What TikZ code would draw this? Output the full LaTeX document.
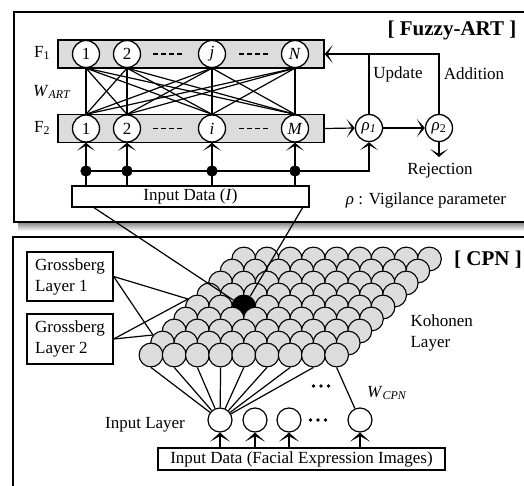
\documentclass[tikz,border=0pt]{standalone}
\usepackage{fontspec}
\setmainfont{Liberation Serif}
\usetikzlibrary{arrows.meta,calc}
\definecolor{kgray}{HTML}{DCDCDC}
\begin{document}
\begin{tikzpicture}[x=1pt,y=-1pt,
  font=\fontsize{17}{21}\selectfont,
  line width=1.2pt,
  frame/.style={draw, line width=1.4pt},
  barn/.style={draw, fill=kgray, line width=1.3pt, minimum width=266pt, minimum height=28pt, inner sep=0pt},
  ncirc/.style={circle, draw, fill=white, line width=1.3pt, minimum size=27pt, inner sep=0pt},
  kcirc/.style={circle, draw, line width=1.1pt, minimum size=23.8pt, inner sep=0pt},
  icirc/.style={circle, draw, fill=white, line width=1.2pt, minimum size=24pt, inner sep=0pt},
  dotn/.style={circle, fill=black, minimum size=11pt, inner sep=0pt},
  smalldot/.style={circle, fill=black, minimum size=3.6pt, inner sep=0pt},
  tip/.style={-{Stealth[length=8pt,width=18pt,inset=5pt]}},
  thicktip/.style={line width=2.8pt, -{Stealth[length=9pt,width=20pt,inset=5.5pt]}},
  boxn/.style={draw, line width=1.3pt, inner sep=0pt},
  lbl/.style={inner sep=0pt},
  headtext/.style={inner sep=0pt, font=\fontsize{21}{24}\selectfont\bfseries},
  dashrow/.style={line width=1.3pt, dash pattern=on 5pt off 3pt}
]
\useasboundingbox (0,0) rectangle (524,486);
\clip (0,0) rectangle (524,486);

% ---------- Fuzzy-ART frame ----------
\shade[top color=black!50, bottom color=white] (18,222) rectangle (535,231);
\draw[frame, fill=white] (14,12) rectangle (535,222);
\node[headtext] (hart) at (452,30) {[ Fuzzy-ART ]};

\node[barn] (F1bar) at (191,54) {};
\node[barn] (F2bar) at (191,128.5) {};

\node[lbl] (lF1) at (42,53) {F\textsubscript{1}};
\node[lbl] (lW) at (52,92) {\textit{W}\textsubscript{\textit{ART}}};
\node[lbl] (lF2) at (42,128) {F\textsubscript{2}};

\node[ncirc] (f1-1) at (86,54) {1};
\node[ncirc] (f1-2) at (127,54) {2};
\node[ncirc] (f1-3) at (212,54) {\textit{j}};
\node[ncirc] (f1-4) at (295,54) {\textit{N}};
\node[ncirc] (f2-1) at (86,128.5) {1};
\node[ncirc] (f2-2) at (127,128.5) {2};
\node[ncirc] (f2-3) at (212,128.5) {\textit{i}};
\node[ncirc] (f2-4) at (295,128.5) {\textit{M}};

\coordinate (da1) at (153,54);  \coordinate (db1) at (182,54);
\coordinate (da2) at (239,54);  \coordinate (db2) at (268,54);
\coordinate (da3) at (153,128.5); \coordinate (db3) at (182,128.5);
\coordinate (da4) at (239,128.5); \coordinate (db4) at (268,128.5);
\draw[dashrow] (da1) -- (db1);
\draw[dashrow] (da2) -- (db2);
\draw[dashrow] (da3) -- (db3);
\draw[dashrow] (da4) -- (db4);

\foreach \a in {1,2,3,4}{
  \foreach \b in {1,2,3,4}{
    \draw (f1-\a.south) -- (f2-\b.north);
  }
}

\node[boxn, minimum width=237pt, minimum height=21pt] (inI) at (190.5,196.5) {Input Data (\textit{I})};

\node[ncirc, minimum size=27pt] (rho1) at (369,128) {\textit{ρ}\textsubscript{\textit{1}}};
\node[ncirc, minimum size=27pt] (rho2) at (439,128) {\textit{ρ}\textsubscript{2}};

\node[dotn] (d1) at (86,171) {};
\node[dotn] (d2) at (127,171) {};
\node[dotn] (d3) at (212,171) {};
\node[dotn] (d4) at (295,171) {};

\foreach \k in {1,2,3,4}{
  \draw[tip] (f2-\k |- inI.north) -- (f2-\k.south);
}
\draw[tip] (d1.center) -| (rho1.south);
\foreach \k in {1,2,3,4}{
  \node[dotn] at (d\k) {};
}

\draw[tip] (F2bar.east) -- (rho1.west);
\draw[tip] (rho1.east) -- (rho2.west);
\coordinate (rej) at (439,157);
\draw[tip] (rho2.south) -- (rej);
\draw[tip] (rho2.north) |- (F1bar.east);
\coordinate (up1) at (369,54);
\draw (rho1.north) -- (up1);

\node[lbl] (lupd) at (398,74) {Update};
\node[lbl] (ladd) at (474,74) {Addition};
\node[lbl] (lrej) at (440,171) {Rejection};
\node[lbl] (lvig) at (426,200) {\textit{ρ} : Vigilance parameter};

% ---------- CPN frame ----------
\draw[frame] (13,237) rectangle (535,495);
\node[headtext] (hcpn) at (488,260) {[ CPN ]};

\node[boxn, minimum width=86pt, minimum height=49pt, align=left] (gl1) at (70,276.5) {Grossberg\\Layer 1};
\node[boxn, minimum width=86pt, minimum height=50pt, align=left] (gl2) at (70,339) {Grossberg\\Layer 2};

\coordinate (ga) at (188,299);
\coordinate (gb) at (153,335);
\draw (gl1.east) -- (ga);
\draw (gl1.east) -- (gb);
\draw (gl2.east) -- (ga);
\draw (gl2.east) -- (gb);

\foreach \j in {8,7,...,0}{
  \foreach \i in {0,...,8}{
    \ifnum\i=2 \ifnum\j=4 \def\kf{black}\else\def\kf{kgray}\fi\else\def\kf{kgray}\fi
    \node[kcirc, fill=\kf] (k-\i-\j) at ({151+23.2*\i+11.6*\j},{355-12*\j}) {};
  }
}

\coordinate (ia) at (93,207);
\coordinate (ib) at (303,207);
\draw (ia) -- (k-2-4);
\draw (ib) -- (k-2-4);

\node[icirc] (in1) at (220,420) {};
\node[icirc] (in2) at (255,420) {};
\node[icirc] (in3) at (289,420) {};
\node[icirc] (in4) at (360,420) {};

\foreach \i in {0,...,7}{
  \draw (k-\i-0.south) -- (in1);
}
\draw (k-8-0.south) -- (in4);

\node[smalldot] (ua) at (313.5,386) {};
\node[smalldot] (ub) at (321,386) {};
\node[smalldot] (uc) at (328.5,386) {};
\node[smalldot] (va) at (310.5,420) {};
\node[smalldot] (vb) at (318,420) {};
\node[smalldot] (vc) at (325.5,420) {};

\node[lbl] (linl) at (145,425) {Input Layer};
\node[lbl, anchor=west, align=left] (lkoh) at (410,332.5) {Kohonen\\Layer};
\node[lbl] (lwcpn) at (387,393) {\textit{W}\textsubscript{\textit{CPN}}};

\node[boxn, minimum width=287pt, minimum height=22pt] (inF) at (301.5,459) {Input Data (Facial Expression Images)};

\foreach \k in {1,2,3,4}{
  \draw[thicktip] (in\k |- inF.north) -- (in\k.south);
}
\end{tikzpicture}
\end{document}
